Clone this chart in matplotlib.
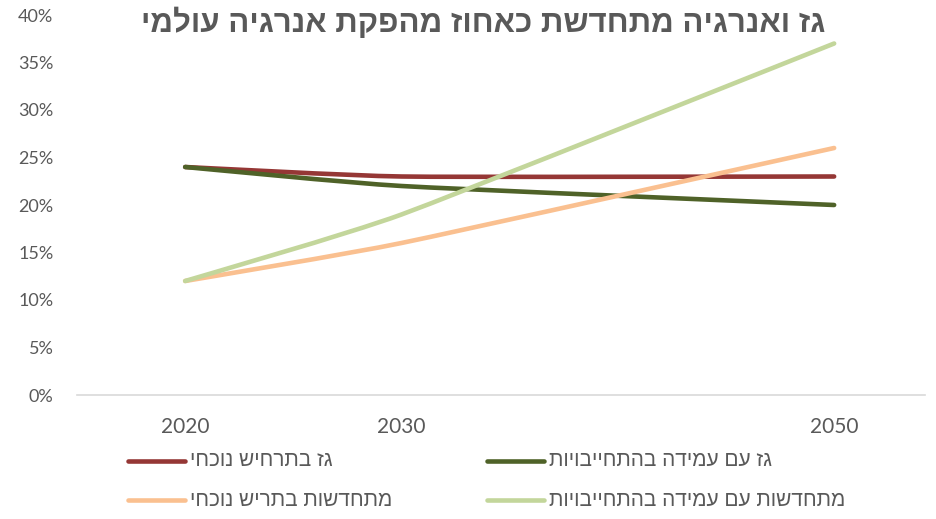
import numpy as np
import matplotlib
matplotlib.use('Agg')
import matplotlib.pyplot as plt
from matplotlib.path import Path
from matplotlib.patches import PathPatch
from matplotlib.lines import Line2D

# data (shares of world energy production)
years = [2020, 2030, 2050]
gas_current = [0.24, 0.23, 0.23]
gas_commit = [0.24, 0.22, 0.20]
ren_current = [0.12, 0.16, 0.26]
ren_commit = [0.12, 0.19, 0.37]

names = ['גז בתרחיש נוכחי', 'גז עם עמידה בהתחייבויות',
         'מתחדשות בתריש נוכחי', 'מתחדשות עם עמידה בהתחייבויות']
colors = ['#953735', '#4F6228', '#FAC090', '#C3D69B']
title = 'גז ואנרגיה מתחדשת כאחוז מהפקת אנרגיה עולמי'

y_ticks = [0, 0.05, 0.10, 0.15, 0.20, 0.25, 0.30, 0.35, 0.40]

gray = '#595959'
heb_font = ['Liberation Sans Narrow', 'Liberation Sans', 'DejaVu Sans']
num_font = ['Lato', 'DejaVu Sans']


def rtl(s):
    # matplotlib has no bidi support, so flip Hebrew for display
    return s[::-1]


def smooth_path(x, y, k=12):
    # smoothed line like excel's: cubic bezier through the points
    pts = np.column_stack([x, y]).astype(float)
    n = len(pts)
    verts = [pts[0]]
    codes = [Path.MOVETO]
    for i in range(n - 1):
        p0 = pts[max(i - 1, 0)]
        p1 = pts[i]
        p2 = pts[i + 1]
        p3 = pts[min(i + 2, n - 1)]
        c1 = p1 + (p2 - p0) / k
        c2 = p2 - (p3 - p1) / k
        verts += [c1, c2, p2]
        codes += [Path.CURVE4] * 3
    return Path(verts, codes)


fig = plt.figure(figsize=(9.36, 5.19), dpi=100)
ax = fig.add_axes([77 / 936, 124 / 519, 848 / 936, 380 / 519])

series = [gas_current, gas_commit, ren_current, ren_commit]
for vals, c in zip(series, colors):
    patch = PathPatch(smooth_path(years, vals), facecolor='none', edgecolor=c,
                      lw=3.3, capstyle='round', joinstyle='round')
    ax.add_patch(patch)

ax.set_xlim(2015, 2054.2)
ax.set_ylim(0, 0.40)
ax.set_xticks(years)
ax.set_xticklabels([str(y) for y in years], fontsize=15, color=gray, family=num_font)
ax.set_yticks(y_ticks)
ax.set_yticklabels(['%d%%' % round(v * 100) for v in y_ticks], fontsize=13,
                   color=gray, family=num_font)
ax.tick_params(axis='x', length=0, pad=16)
ax.tick_params(axis='y', length=0, pad=17)
for s in ['top', 'right', 'left']:
    ax.spines[s].set_visible(False)
ax.spines['bottom'].set_color('#D9D9D9')
ax.spines['bottom'].set_linewidth(1.2)

fig.text(483 / 936, 1 - 23 / 519, rtl(title), ha='center', va='center',
         fontsize=22.5, fontweight='bold', color=gray, family=heb_font)

# legend, two rows by two columns
legend_pos = [(128, 461), (487, 461), (128, 500), (487, 500)]
for (lx, ly), name, c in zip(legend_pos, names, colors):
    yf = 1 - ly / 519
    fig.add_artist(Line2D([lx / 936, (lx + 57) / 936], [yf, yf], color=c, lw=3.3,
                          solid_capstyle='round', transform=fig.transFigure))
    fig.text((lx + 62) / 936, yf, rtl(name), ha='left', va='center',
             fontsize=15, color=gray, family=heb_font)

fig.savefig('out.png', dpi=100)
